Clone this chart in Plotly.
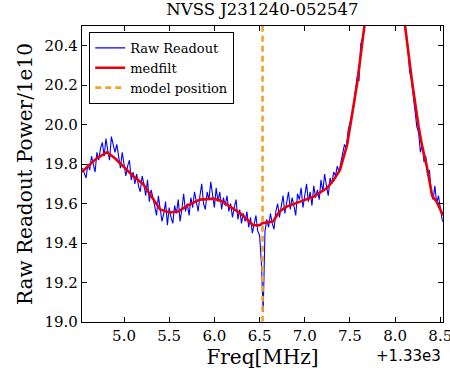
import numpy as np
import plotly.graph_objects as go

title = "NVSS J231240-052547"
x_offset_label = "+1.33e3"

# Raw readout: frequency offsets (MHz, relative to 1330) sampled every 0.02 MHz
raw_x_start = 4.54
raw_x_step = 0.02
raw_y = [
    19.78, 19.75, 19.73, 19.80, 19.77, 19.84, 19.79, 19.76, 19.86, 19.82,
    19.88, 19.91, 19.84, 19.93, 19.87, 19.82, 19.94, 19.89, 19.86, 19.90,
    19.84, 19.78, 19.86, 19.80, 19.74, 19.79, 19.82, 19.72, 19.76, 19.70,
    19.75, 19.69, 19.66, 19.74, 19.70, 19.64, 19.72, 19.61, 19.67, 19.63,
    19.59, 19.54, 19.64, 19.57, 19.51, 19.55, 19.61, 19.49, 19.58, 19.53,
    19.50, 19.59, 19.55, 19.62, 19.51, 19.57, 19.65, 19.56, 19.60, 19.54,
    19.63, 19.58, 19.66, 19.61, 19.56, 19.64, 19.70, 19.60, 19.57, 19.66,
    19.62, 19.71, 19.65, 19.58, 19.68, 19.61, 19.66, 19.57, 19.63, 19.59,
    19.64, 19.56, 19.60, 19.53, 19.58, 19.62, 19.52, 19.57, 19.50, 19.55,
    19.51, 19.56, 19.48, 19.53, 19.45, 19.50, 19.54, 19.46, 19.44, 19.30,
    19.05, 19.46, 19.52, 19.48, 19.55, 19.50, 19.47, 19.56, 19.60, 19.53,
    19.59, 19.64, 19.55, 19.61, 19.66, 19.57, 19.63, 19.59, 19.54, 19.65,
    19.62, 19.68, 19.58, 19.64, 19.70, 19.61, 19.66, 19.59, 19.69, 19.63,
    19.67, 19.62, 19.72, 19.66, 19.75, 19.69, 19.64, 19.73, 19.70, 19.76,
    19.74, 19.79, 19.76, 19.81, 19.85, 19.90, 19.88, 19.97, 20.01, 20.05,
    20.09, 20.17, 20.24, 20.22, 20.41, 20.44, 20.49, 20.61, 20.66, 20.76,
    20.83, 20.91, 20.96, 21.05, 21.06, 21.11, 21.10, 21.13, 21.12, 21.11,
    21.09, 21.08, 21.02, 20.98, 20.89, 20.81, 20.71, 20.65, 20.55, 20.47,
    20.40, 20.27, 20.23, 20.14, 20.05, 19.99, 19.96, 19.86, 19.90, 19.81,
    19.84, 19.74, 19.77, 19.65, 19.62, 19.69, 19.60, 19.64, 19.58, 19.52,
    19.50,
]
raw_x = [round(raw_x_start + raw_x_step * i, 4) for i in range(len(raw_y))]

# Median-filtered curve
med_x = [4.535, 4.60, 4.70, 4.81, 4.90, 5.03, 5.10, 5.21, 5.30, 5.40, 5.50,
         5.60, 5.70, 5.84, 5.99, 6.07, 6.14, 6.29, 6.43, 6.50, 6.53, 6.65,
         6.72, 6.80, 6.95, 7.10, 7.25, 7.32, 7.39, 7.47, 7.52, 7.58, 7.66,
         7.75, 7.85, 7.95, 8.05, 8.11, 8.19, 8.26, 8.30, 8.35, 8.41, 8.46, 8.53]
med_y = [19.76, 19.79, 19.83, 19.86, 19.83, 19.77, 19.74, 19.70, 19.64, 19.57, 19.555,
         19.56, 19.59, 19.62, 19.625, 19.615, 19.595, 19.55, 19.49, 19.49, 19.50, 19.51,
         19.56, 19.585, 19.61, 19.635, 19.68, 19.72, 19.77, 19.90, 20.04, 20.21, 20.50,
         20.85, 21.10, 21.10, 20.80, 20.50, 20.21, 19.99, 19.89, 19.79, 19.64, 19.61, 19.54]

model_position = 6.533

x_ticks = [5.0, 5.5, 6.0, 6.5, 7.0, 7.5, 8.0, 8.5]
y_ticks = [19.0, 19.2, 19.4, 19.6, 19.8, 20.0, 20.2, 20.4]

FONT = "DejaVu Serif"

fig = go.Figure()
fig.add_trace(go.Scatter(x=raw_x, y=raw_y, mode="lines", name="Raw Readout",
                         line=dict(color="#0000ff", width=1.1)))
fig.add_trace(go.Scatter(x=med_x, y=med_y, mode="lines", name="medfilt",
                         line=dict(color="#e8000b", width=2.6)))
fig.add_trace(go.Scatter(x=[model_position, model_position], y=[18.9, 20.6], mode="lines",
                         name="model position",
                         line=dict(color="#f2a22e", width=2.6, dash="6px,4px")))

axis_common = dict(showgrid=False, zeroline=False, showline=True, linecolor="black",
                   linewidth=1.2, mirror="ticks", ticks="inside", ticklen=5,
                   tickcolor="black", tickwidth=1, automargin=False,
                   ticklabeloverflow="allow",
                   tickfont=dict(family=FONT, size=15, color="black"))

fig.update_xaxes(range=[4.535, 8.53], tickvals=x_ticks, tickformat=".1f",
                 title=dict(text="Freq[MHz]", font=dict(family=FONT, size=20, color="black"),
                            standoff=2),
                 **axis_common)
fig.update_yaxes(range=[19.0, 20.5], tickvals=y_ticks, tickformat=".1f",
                 title=dict(text="Raw Readout Power/1e10",
                            font=dict(family=FONT, size=20, color="black"), standoff=6),
                 **axis_common)

fig.update_layout(
    width=450, height=373,
    margin=dict(l=82, r=7, t=26, b=51),
    paper_bgcolor="white", plot_bgcolor="white",
    title=dict(text=title, x=0.583, xanchor="center", y=0.99, yanchor="top",
               font=dict(family=FONT, size=16.5, color="black"), automargin=False),
    showlegend=True,
    legend=dict(x=0.02, y=0.98, xanchor="left", yanchor="top",
                bgcolor="white", bordercolor="black", borderwidth=1,
                font=dict(family=FONT, size=13, color="black"),
                tracegroupgap=0, itemwidth=30),
    annotations=[dict(text=x_offset_label, xref="paper", yref="paper", x=1.0, y=-0.078,
                      xanchor="right", yanchor="top", showarrow=False,
                      font=dict(family="DejaVu Sans", size=15, color="black"))],
)

fig.write_html("out.html", config={"displayModeBar": False},
               post_script="document.body.style.margin='0';document.body.style.overflow='hidden';")
